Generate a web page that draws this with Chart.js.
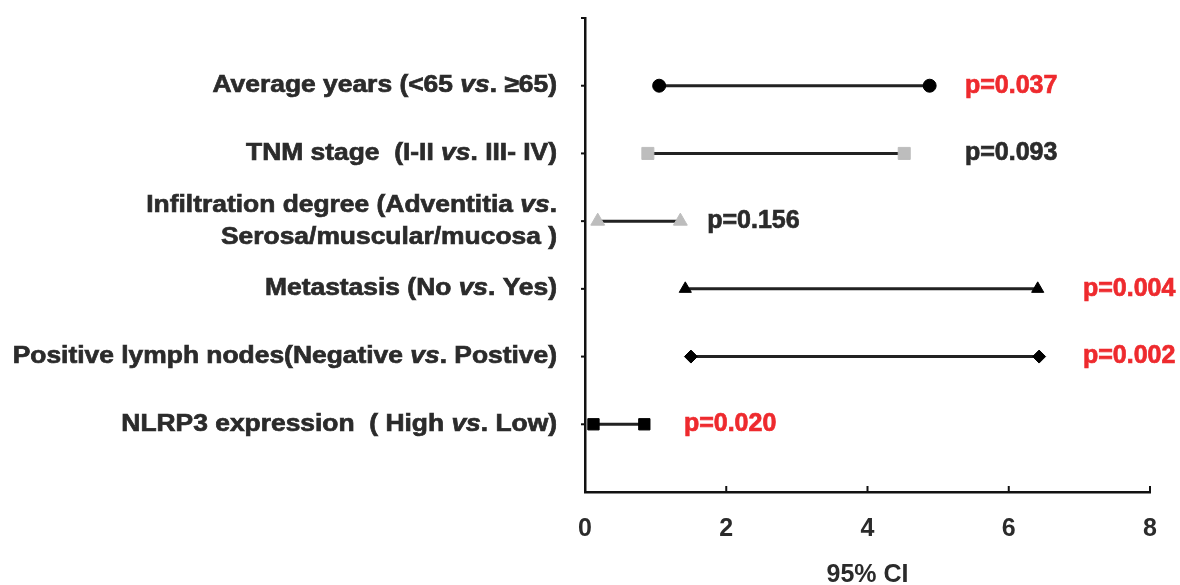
<!DOCTYPE html>
<html>
<head>
<meta charset="utf-8">
<script src="https://cdn.jsdelivr.net/npm/chart.js@4"></script>
<style>
  html, body { margin: 0; padding: 0; background: #fff; }
  #wrap { width: 1180px; height: 585px; }
</style>
</head>
<body>
<div id="wrap"><canvas id="chart" width="1180" height="585"></canvas></div>
<script>
// row labels, top to bottom (each entry = lines of the label)
const rowLabels = [
    ["Average years (<65 vs. \u226565)"],
    ["TNM stage  (I-II vs. III- IV)"],
    ["Infiltration degree (Adventitia vs.", "Serosa/muscular/mucosa )"],
    ["Metastasis (No vs. Yes)"],
    ["Positive lymph nodes(Negative vs. Postive)"],
    ["NLRP3 expression  ( High vs. Low)"],
];
const ciLower = [1.05, 0.89, 0.18, 1.42, 1.50, 0.12];
const ciUpper = [4.88, 4.52, 1.35, 6.41, 6.43, 0.84];
const pValues = [0.037, 0.093, 0.156, 0.004, 0.002, 0.020];
const xTicks = [0, 2, 4, 6, 8];

// where each p text starts, in axis units
const pLabelAt = [5.38, 5.38, 1.73, 7.05, 7.05, 1.40];

const markerStyle = ['circle', 'rect', 'triangle', 'triangle', 'rectRot', 'rect'];
const markerColor = ['#000', '#bdbdbd', '#bdbdbd', '#000', '#000', '#000'];
const markerSize = [6.5, 8.5, 8, 7, 6.5, 8];

const FONT = "'Liberation Sans', Arial, sans-serif";
const TEXT = '#2b2b2b';

const datasets = rowLabels.map((_, i) => ({
    label: rowLabels[i].join(' '),
    data: [{ x: ciLower[i], y: i + 1 }, { x: ciUpper[i], y: i + 1 }],
    showLine: true,
    borderColor: '#222',
    borderWidth: 3,
    pointStyle: markerStyle[i],
    pointRadius: markerSize[i],
    pointBackgroundColor: markerColor[i],
    pointBorderColor: markerColor[i],
    pointBorderWidth: 1,
}));

// bold text, slightly widened and fattened like the original figure
function heavyText(ctx, text, x, y, stretch) {
    ctx.save();
    ctx.translate(x, y);
    ctx.scale(stretch, 1);
    ctx.lineWidth = 0.7;
    ctx.strokeStyle = ctx.fillStyle;
    ctx.fillText(text, 0, 0);
    ctx.strokeText(text, 0, 0);
    ctx.restore();
}

// draws the row labels (italic "vs"), p values and the small axis ticks
const forestDecor = {
    id: 'forestDecor',
    afterDraw(chart) {
        const ctx = chart.ctx;
        const xs = chart.scales.x;
        const ys = chart.scales.y;
        ctx.save();

        // y ticks, outward
        ctx.strokeStyle = '#111';
        ctx.lineWidth = 2;
        for (let v = 0; v <= 6; v++) {
            const y = ys.getPixelForValue(v);
            ctx.beginPath();
            ctx.moveTo(xs.left - 4, y);
            ctx.lineTo(xs.left, y);
            ctx.stroke();
        }
        // x ticks, inward
        xTicks.slice(1).forEach(v => {
            const x = xs.getPixelForValue(v);
            ctx.beginPath();
            ctx.moveTo(x, ys.bottom);
            ctx.lineTo(x, ys.bottom - 6);
            ctx.stroke();
        });

        // row labels, right aligned left of the axis
        const stretch = 1.1;
        const right = xs.left - 28;
        const lineGap = 32;
        ctx.textBaseline = 'middle';
        ctx.textAlign = 'left';
        ctx.fillStyle = TEXT;
        rowLabels.forEach((lines, i) => {
            const yc = ys.getPixelForValue(i + 1);
            lines.forEach((line, k) => {
                const y = yc + (k - (lines.length - 1) / 2) * lineGap;
                const parts = line.split('vs');
                const fonts = [];
                const texts = [];
                parts.forEach((p, j) => {
                    texts.push(p); fonts.push('bold 24px ' + FONT);
                    if (j < parts.length - 1) { texts.push('vs'); fonts.push('italic bold 24px ' + FONT); }
                });
                let w = 0;
                texts.forEach((t, j) => { ctx.font = fonts[j]; w += ctx.measureText(t).width * stretch; });
                let x = right - w;
                texts.forEach((t, j) => {
                    ctx.font = fonts[j];
                    heavyText(ctx, t, x, y, stretch);
                    x += ctx.measureText(t).width * stretch;
                });
            });
        });

        // p values
        ctx.font = 'bold 25px ' + FONT;
        pValues.forEach((p, i) => {
            ctx.fillStyle = p < 0.05 ? '#ee2a2e' : TEXT;
            heavyText(ctx, 'p=' + p.toFixed(3), xs.getPixelForValue(pLabelAt[i]), ys.getPixelForValue(i + 1), 1);
        });
        ctx.restore();
    }
};

new Chart(document.getElementById('chart'), {
    type: 'scatter',
    data: { datasets: datasets },
    options: {
        responsive: false,
        animation: false,
        layout: { padding: { left: 0, top: 18, right: 30, bottom: 0 } },
        plugins: { legend: { display: false }, tooltip: { enabled: false } },
        scales: {
            x: {
                type: 'linear',
                min: 0,
                max: 8,
                afterBuildTicks: (scale) => { scale.ticks = xTicks.map(v => ({ value: v })); },
                afterFit: (scale) => { scale.height = 93; },
                grid: { display: false, drawTicks: false },
                border: { display: true, color: '#111', width: 2.5 },
                ticks: {
                    padding: 22,
                    color: TEXT,
                    font: { family: FONT, size: 25, weight: 'bold' },
                },
                title: {
                    display: true,
                    text: '95% CI',
                    color: TEXT,
                    font: { family: FONT, size: 25, weight: 'bold' },
                    padding: { top: 0, bottom: -5 },
                },
            },
            y: {
                type: 'linear',
                reverse: true,
                min: 0,
                max: 7,
                afterFit: (scale) => { scale.width = 585; },
                grid: { display: false, drawTicks: false },
                border: { display: true, color: '#111', width: 2.5 },
                ticks: { display: false },
            },
        },
    },
    plugins: [forestDecor],
});
</script>
</body>
</html>
